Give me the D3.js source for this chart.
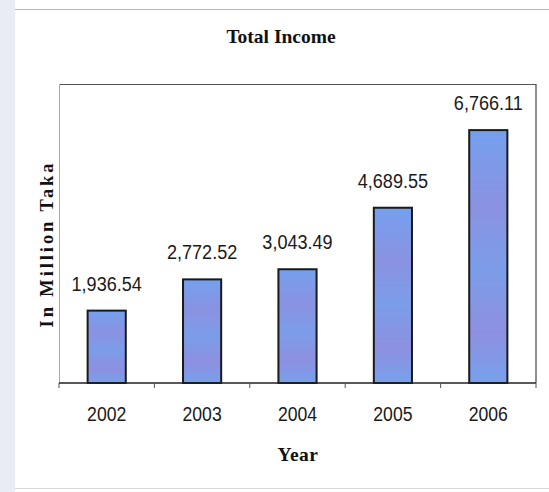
<!DOCTYPE html>
<html><head><meta charset="utf-8">
<script src="https://cdn.jsdelivr.net/npm/d3@7"></script>
<style>
html,body{margin:0;padding:0;background:#fff;}
svg{display:block;}
</style></head>
<body>
<svg id="chart" width="549" height="492"></svg>
<script>
const years = ["2002","2003","2004","2005","2006"];
const income = [1936.54, 2772.52, 3043.49, 4689.55, 6766.11];
const yDomainMax = 8000;

const svg = d3.select("#chart");
const W = 549, H = 492;
const m = {left:59, right:13, top:84, bottom:109};
const pw = W - m.left - m.right, ph = H - m.top - m.bottom;
const SANS = "Liberation Sans, Arial, sans-serif";
const SERIF = "Liberation Serif, Times New Roman, serif";

// page background artifacts of scan
svg.append("rect").attr("x",0).attr("y",0).attr("width",15).attr("height",H).attr("fill","#e9ecf4");
svg.append("line").attr("x1",15).attr("x2",W).attr("y1",9.5).attr("y2",9.5).attr("stroke","#b8b8b8").attr("stroke-width",1.2);
svg.append("line").attr("x1",15).attr("x2",W).attr("y1",488.5).attr("y2",488.5).attr("stroke","#d8d8d8").attr("stroke-width",1);

const defs = svg.append("defs");
const grad = defs.append("linearGradient").attr("id","barGrad").attr("x1","0").attr("y1","0").attr("x2","0").attr("y2","1");
[["0%","#74a0ee"],["30%","#8a92e2"],["55%","#7b9de9"],["80%","#8d90e0"],["100%","#77a0ec"]].forEach(s=>{
  grad.append("stop").attr("offset",s[0]).attr("stop-color",s[1]);
});

const x = d3.scaleBand().domain(years).range([0,pw]).paddingInner(0.6).paddingOuter(0.3);
const y = d3.scaleLinear().domain([0,yDomainMax]).range([ph,0]);

const g = svg.append("g").attr("transform",`translate(${m.left},${m.top})`);

// plot frame
g.append("line").attr("x1",0).attr("x2",pw).attr("y1",0.5).attr("y2",0.5).attr("stroke","#555").attr("stroke-width",1.2);
g.append("line").attr("x1",pw).attr("x2",pw).attr("y1",0).attr("y2",ph).attr("stroke","#444").attr("stroke-width",1.2);
g.append("line").attr("x1",0.5).attr("x2",0.5).attr("y1",0).attr("y2",ph).attr("stroke","#aaa").attr("stroke-width",1);

// bars
g.selectAll("rect.bar").data(income).enter().append("rect")
  .attr("class","bar")
  .attr("x",(d,i)=>x(years[i]))
  .attr("y",d=>y(d))
  .attr("width",x.bandwidth())
  .attr("height",d=>ph - y(d))
  .attr("fill","url(#barGrad)")
  .attr("stroke","#1a1a1a").attr("stroke-width",2);

// value labels (condensed sans)
const fmt = d3.format(",.2f");
g.selectAll("text.val").data(income).enter().append("text")
  .attr("class","val")
  .attr("transform",(d,i)=>`translate(${x(years[i]) + x.bandwidth()/2},${y(d) - 20}) scale(0.86,1)`)
  .attr("text-anchor","middle")
  .attr("font-family",SANS)
  .attr("font-size",21)
  .attr("fill","#1a1a1a")
  .text(d=>fmt(d));

// x axis
const xOuter = d3.scaleLinear().domain([0,years.length]).range([0,pw]);
const xAxis = g.append("g").attr("transform",`translate(0,${ph})`);
xAxis.append("line").attr("x1",0).attr("x2",pw).attr("y1",0).attr("y2",0).attr("stroke","#222").attr("stroke-width",1.5);
xAxis.selectAll("line.tick").data(d3.range(0,years.length+1)).enter().append("line")
  .attr("class","tick")
  .attr("x1",d=>xOuter(d)).attr("x2",d=>xOuter(d)).attr("y1",0).attr("y2",5)
  .attr("stroke","#555").attr("stroke-width",1);
xAxis.selectAll("text").data(years).enter().append("text")
  .attr("transform",d=>`translate(${x(d)+x.bandwidth()/2},38) scale(0.84,1)`)
  .attr("text-anchor","middle")
  .attr("font-family",SANS)
  .attr("font-size",21)
  .attr("fill","#1a1a1a")
  .text(d=>d);

// titles
svg.append("text").attr("x",281).attr("y",43).attr("text-anchor","middle")
  .attr("font-family",SERIF).attr("font-weight","bold")
  .attr("font-size",19.5).attr("fill","#111").text("Total Income");
svg.append("text").attr("x",298).attr("y",461).attr("text-anchor","middle")
  .attr("font-family",SERIF).attr("font-weight","bold")
  .attr("font-size",19.5).attr("letter-spacing",0.5).attr("fill","#111").text("Year");
svg.append("text").attr("transform","translate(53,244) rotate(-90)").attr("text-anchor","middle")
  .attr("font-family",SERIF).attr("font-weight","bold")
  .attr("font-size",18.5).attr("letter-spacing",2.9).attr("fill","#111").text("In Million Taka");
</script>
</body></html>
